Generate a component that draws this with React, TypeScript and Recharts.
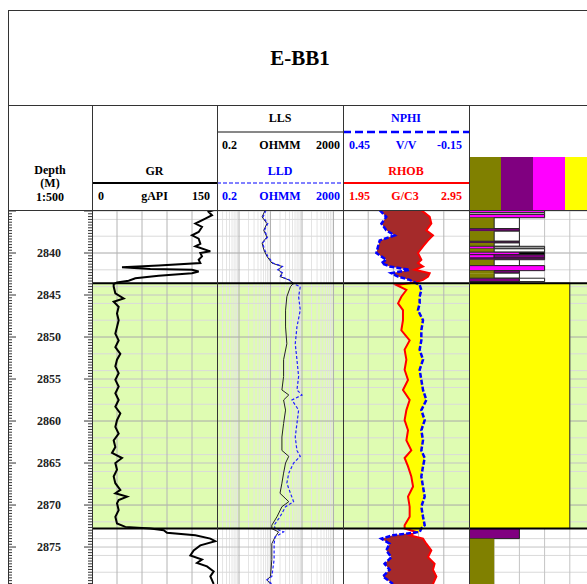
import React from "react";
import {
  Area,
  ComposedChart,
  Line,
  ReferenceArea,
  ReferenceLine,
  XAxis,
  YAxis,
} from "recharts";

// plotted depth window (m) and the pay interval
const TOP_DEPTH = 2834.88;
const BASE_DEPTH = 2879.4;
const PAY_TOP = 2843.6;
const PAY_BASE = 2872.8;

// gamma ray
const grDepth = [
  2834.9, 2835.1, 2835.5, 2835.9, 2836.5, 2836.9, 2837.5, 2837.9, 2838.3, 2838.9,
  2839.2, 2839.8, 2840.0, 2840.4, 2840.8, 2841.2, 2841.5, 2841.7, 2841.9, 2842.0,
  2842.2, 2842.4, 2842.7, 2843.0, 2843.3, 2843.5, 2843.7, 2844.0, 2844.8, 2845.4,
  2845.8, 2846.4, 2847.2, 2848.0, 2848.8, 2849.6, 2850.4, 2851.2, 2852.0, 2852.7,
  2853.5, 2854.3, 2855.1, 2855.9, 2856.7, 2857.5, 2858.3, 2859.1, 2859.9, 2860.7,
  2861.5, 2862.3, 2863.1, 2863.8, 2864.4, 2865.0, 2865.8, 2866.6, 2867.4, 2868.2,
  2868.6, 2869.0, 2869.4, 2869.8, 2870.6, 2871.4, 2872.2, 2872.6, 2872.8, 2873.0,
  2873.3, 2873.6, 2874.0, 2874.3, 2874.8, 2875.4, 2876.0, 2876.5, 2876.9, 2877.3,
  2877.9, 2878.5, 2879.4,
];
const grApi = [
  146, 140, 144, 136, 124, 132, 128, 120, 128, 130,
  124, 142, 130, 132, 128, 130, 80, 36, 70, 120,
  128, 120, 80, 52, 44, 30, 26, 26, 28, 38,
  26, 32, 30, 32, 30, 28, 32, 28, 34, 30,
  28, 32, 28, 32, 28, 32, 28, 34, 30, 28,
  32, 26, 28, 24, 36, 28, 30, 26, 28, 34,
  28, 42, 32, 30, 32, 28, 30, 40, 70, 86,
  90, 124, 142, 148, 130, 122, 118, 132, 126, 138,
  146, 142, 146,
];

// laterologs
const resDepth = [
  2834.9, 2835.7, 2836.5, 2837.3, 2838.1, 2838.8, 2839.6, 2840.4, 2841.2, 2841.6,
  2842.0, 2842.4, 2842.8, 2843.2, 2843.6, 2844.0, 2845.2, 2846.8, 2848.8, 2850.8,
  2852.7, 2854.7, 2856.3, 2856.9, 2857.5, 2858.7, 2860.3, 2861.9, 2863.5, 2864.2,
  2865.0, 2866.2, 2867.4, 2868.6, 2869.6, 2870.2, 2871.4, 2872.4, 2872.8, 2873.2,
  2873.8, 2874.6, 2876.5, 2878.5, 2878.9, 2879.4,
];
const llsOhmm = [
  6.8, 5.4, 7.7, 6.1, 7.7, 5.4, 6.1, 7.7, 11.1, 23,
  18, 23, 20, 38, 54, 43, 33, 30, 30, 33,
  26, 26, 23, 38, 26, 30, 26, 23, 23, 38,
  30, 26, 23, 20, 38, 23, 16, 11, 11, 18,
  14, 11, 11, 10, 7.7, 10,
];
const lldOhmm = [
  7.2, 5.8, 8.2, 6.4, 8.0, 5.6, 6.5, 8.2, 12, 24,
  17, 25, 21, 40, 48, 88, 78, 88, 69, 61,
  69, 78, 69, 100, 48, 78, 69, 61, 69, 88,
  54, 38, 33, 43, 54, 30, 20, 13, 14, 26,
  14, 13, 13, 11, 7.7, 11,
];

// neutron / density
const denDepth = [
  2834.9, 2835.7, 2836.5, 2837.3, 2837.9, 2838.5, 2839.2, 2840.0, 2840.8, 2841.2,
  2841.6, 2842.0, 2842.4, 2842.8, 2843.2, 2843.5, 2843.8, 2844.4, 2845.2, 2846.0,
  2846.8, 2848.0, 2849.2, 2850.4, 2851.5, 2852.7, 2853.9, 2855.1, 2856.3, 2857.5,
  2858.7, 2859.9, 2861.1, 2862.3, 2863.5, 2864.4, 2865.4, 2866.6, 2867.8, 2869.0,
  2870.2, 2871.4, 2872.4, 2872.8, 2873.2, 2873.6, 2874.0, 2874.6, 2875.4, 2876.2,
  2877.0, 2877.7, 2878.5, 2879.4,
];
const nphiVv = [
  0.275, 0.244, 0.267, 0.244, 0.204, 0.275, 0.283, 0.291, 0.244, 0.267,
  0.228, 0.133, 0.22, 0.188, 0.133, 0.109, 0.085, 0.077, 0.085, 0.085,
  0.093, 0.069, 0.077, 0.077, 0.085, 0.069, 0.085, 0.077, 0.069, 0.053,
  0.077, 0.061, 0.077, 0.069, 0.077, 0.061, 0.069, 0.077, 0.069, 0.061,
  0.077, 0.069, 0.061, 0.077, 0.085, 0.212, 0.267, 0.228, 0.244, 0.22,
  0.252, 0.228, 0.26, 0.212,
];
const rhobGcc = [
  2.572, 2.638, 2.651, 2.611, 2.664, 2.625, 2.585, 2.545, 2.572, 2.545,
  2.585, 2.519, 2.638, 2.625, 2.585, 2.519, 2.373, 2.453, 2.413, 2.387,
  2.426, 2.426, 2.413, 2.479, 2.439, 2.453, 2.439, 2.466, 2.426, 2.479,
  2.453, 2.439, 2.466, 2.453, 2.492, 2.439, 2.466, 2.492, 2.506, 2.466,
  2.479, 2.479, 2.439, 2.439, 2.532, 2.479, 2.585, 2.611, 2.651, 2.625,
  2.677, 2.664, 2.691, 2.664,
];

// lithology column: interval tops/bases and "code width" parts (% of track)
const litTop = [
  2834.88, 2835.2, 2835.4, 2835.8, 2837.1, 2837.4, 2838.6, 2838.8, 2839.2, 2839.5,
  2839.9, 2840.2, 2840.6, 2840.8, 2841.5, 2842.1, 2842.4, 2843.0, 2843.4, 2843.6,
  2872.8, 2874.0,
];
const litBase = [
  2835.2, 2835.4, 2835.8, 2837.1, 2837.4, 2838.6, 2838.8, 2839.2, 2839.5, 2839.9,
  2840.2, 2840.6, 2840.8, 2841.5, 2842.1, 2842.4, 2843.0, 2843.4, 2843.6, 2872.8,
  2874.0, 2879.4,
];
const litParts = [
  "M60", "W60", "M60", "O20 W20", "P40", "O20 W20", "P40", "O20 W20", "M20 G40", "O20 W40",
  "M40 K20", "M20 P40", "P60", "O20 W20", "M60", "O20 P20", "O20 W20", "P40 W20", "P40", "Y80",
  "P40", "O20",
];
const litColors: Record<string, string> = {
  O: "#808000",
  P: "#800080",
  M: "#ff00ff",
  W: "#ffffff",
  G: "#9a9a9a",
  K: "#000000",
  Y: "#ffff00",
};

const SERIF = '"Liberation Serif", "Times New Roman", serif';
const PLOT_H = 374;
const PAY_FILL = "#dffcb2";

const grRows = grDepth.map((d, i) => ({ depth: d, gr: grApi[i] }));
const resRows = resDepth.map((d, i) => ({ depth: d, lls: llsOhmm[i], lld: lldOhmm[i] }));
const denRows = denDepth.map((d, i) => {
  // neutron expressed on the density scale for the crossover shading
  const nEq = 1.95 + (0.45 - nphiVv[i]) / 0.6;
  const r = rhobGcc[i];
  return {
    depth: d,
    nphi: nphiVv[i],
    rhob: r,
    shale: [nEq, Math.max(nEq, r)],
    sand: [r, Math.max(r, nEq)],
  };
});

// horizontal grid depths
const rows2: number[] = [];
for (let d = 2836; d <= 2878; d += 2) if (d % 10 !== 0) rows2.push(d);
const rows5 = [2835, 2845, 2855, 2865, 2875];
const rows10 = [2840, 2850, 2860, 2870];
const depthTicks: number[] = [];
for (let i = 0; 2835 + i / 3 <= BASE_DEPTH; i++) depthTicks.push(2835 + i / 3);

const depthGrid = (k: string) => [
  ...rows2.map((d) => (
    <ReferenceLine key={`${k}a${d}`} y={d} stroke="#dadada" zIndex={-150} />
  )),
  ...rows5.map((d) => (
    <ReferenceLine key={`${k}b${d}`} y={d} stroke="#c4c4c4" zIndex={-150} />
  )),
  ...rows10.map((d) => (
    <ReferenceLine key={`${k}c${d}`} y={d} stroke="#a8a8a8" zIndex={-150} />
  )),
];

const payZone = (k: string) => (
  <ReferenceArea
    key={`${k}pay`}
    y1={PAY_TOP}
    y2={PAY_BASE}
    fill={PAY_FILL}
    fillOpacity={1}
    stroke="none"
    ifOverflow="hidden"
    zIndex={-200}
  />
);

const payEdges = (k: string) => [
  <ReferenceLine key={`${k}t`} y={PAY_TOP} stroke="#000" strokeWidth={2} zIndex={900} />,
  <ReferenceLine key={`${k}b`} y={PAY_BASE} stroke="#000" strokeWidth={2} zIndex={900} />,
];

// depth increases downward in the vertical layout without reversing
const depthAxis = (
  <YAxis type="number" dataKey="depth" domain={[TOP_DEPTH, BASE_DEPTH]} hide allowDataOverflow />
);

const margin = { top: 0, right: 0, bottom: 0, left: 0 };

function DepthTick(props: any) {
  const { y, payload } = props;
  const v: number = payload.value;
  const major = Math.abs(v - Math.round(v / 5) * 5) < 0.01;
  const len = major ? 8 : 4;
  // the 2835 label would sit under the header line
  const labelled = major && v > 2836;
  return (
    <g>
      <line x1={0} x2={len} y1={y} y2={y} stroke="#333" />
      <line x1={84 - len} x2={84} y1={y} y2={y} stroke="#333" />
      {labelled && (
        <text x={41} y={y + 4} textAnchor="middle" fontSize={12} fontWeight="bold" fontFamily={SERIF} fill="#222">
          {Math.round(v)}
        </text>
      )}
    </g>
  );
}

function DepthTrack() {
  return (
    <ComposedChart layout="vertical" width={84} height={PLOT_H} margin={margin} data={[{ depth: TOP_DEPTH }, { depth: BASE_DEPTH }]}>
      <XAxis type="number" domain={[0, 1]} hide />
      <YAxis
        type="number"
        dataKey="depth"
        domain={[TOP_DEPTH, BASE_DEPTH]}
        allowDataOverflow
        mirror
        ticks={depthTicks}
        interval={0}
        tickLine={false}
        axisLine={false}
        tick={(p: any) => <DepthTick {...p} />}
      />
    </ComposedChart>
  );
}

function GrTrack() {
  return (
    <ComposedChart layout="vertical" width={125} height={PLOT_H} margin={margin} data={grRows}>
      <XAxis type="number" domain={[0, 150]} hide allowDataOverflow />
      {depthAxis}
      {payZone("gr")}
      {depthGrid("gr")}
      {[30, 60, 90, 120].map((v) => (
        <ReferenceLine key={`grx${v}`} x={v} stroke="#b4b4b4" zIndex={-150} />
      ))}
      <Line dataKey="gr" type="linear" stroke="#000" strokeWidth={2} dot={false} isAnimationActive={false} />
      {payEdges("gr")}
    </ComposedChart>
  );
}

const logMinor = [0.3, 0.4, 0.5, 0.6, 0.7, 0.8, 0.9, 2, 3, 4, 5, 6, 7, 8, 9, 20, 30, 40, 50, 60, 70, 80, 90, 200, 300, 400, 500, 600, 700, 800, 900];
const logMajor = [1, 10, 100, 1000];

function ResTrack() {
  return (
    <ComposedChart layout="vertical" width={126} height={PLOT_H} margin={margin} data={resRows}>
      <XAxis type="number" scale="log" domain={[0.2, 2000]} hide allowDataOverflow />
      {depthAxis}
      {payZone("res")}
      {logMinor.map((v) => (
        <ReferenceLine key={`rm${v}`} x={v} stroke="#e4e4e4" zIndex={-150} />
      ))}
      {depthGrid("res")}
      {logMajor.map((v) => (
        <ReferenceLine key={`rM${v}`} x={v} stroke="#b0b0b0" zIndex={-150} />
      ))}
      <Line dataKey="lls" type="linear" stroke="#222" strokeWidth={1} dot={false} isAnimationActive={false} />
      <Line dataKey="lld" type="linear" stroke="#1f1fff" strokeWidth={1.2} strokeDasharray="3 2" dot={false} isAnimationActive={false} />
      {payEdges("res")}
    </ComposedChart>
  );
}

function DenTrack() {
  return (
    <ComposedChart layout="vertical" width={126} height={PLOT_H} margin={margin} data={denRows}>
      <XAxis type="number" domain={[1.95, 2.95]} hide allowDataOverflow />
      <XAxis xAxisId="nphi" type="number" domain={[-0.15, 0.45]} reversed hide allowDataOverflow />
      {depthAxis}
      {payZone("den")}
      {depthGrid("den")}
      {[2.15, 2.35, 2.55, 2.75].map((v) => (
        <ReferenceLine key={`dx${v}`} x={v} stroke="#b4b4b4" zIndex={-150} />
      ))}
      <Area dataKey="shale" type="linear" fill="#a52a2a" fillOpacity={1} stroke="none" isAnimationActive={false} />
      <Area dataKey="sand" type="linear" fill="#ffff00" fillOpacity={1} stroke="none" isAnimationActive={false} />
      <Line dataKey="rhob" type="linear" stroke="#ff0000" strokeWidth={2} dot={false} isAnimationActive={false} />
      <Line
        xAxisId="nphi"
        dataKey="nphi"
        type="linear"
        stroke="#0000ff"
        strokeWidth={2.5}
        strokeDasharray="5 2"
        dot={false}
        isAnimationActive={false}
      />
      {payEdges("den")}
    </ComposedChart>
  );
}

function LithTrack() {
  const boxes: React.ReactNode[] = [];
  litParts.forEach((parts, i) => {
    let x = 0;
    parts.split(" ").forEach((p, j) => {
      const code = p[0];
      const w = Number(p.slice(1));
      boxes.push(
        <ReferenceArea
          key={`lit${i}_${j}`}
          x1={x}
          x2={x + w}
          y1={litTop[i]}
          y2={litBase[i]}
          fill={litColors[code]}
          fillOpacity={1}
          stroke={code === "O" ? "none" : "#222"}
          strokeWidth={1}
          ifOverflow="hidden"
          zIndex={100}
        />
      );
      x += w;
    });
  });
  return (
    <ComposedChart layout="vertical" width={126} height={PLOT_H} margin={margin} data={[{ depth: TOP_DEPTH }, { depth: BASE_DEPTH }]}>
      <XAxis type="number" domain={[0, 100]} hide allowDataOverflow />
      {depthAxis}
      {payZone("lit")}
      {depthGrid("lit")}
      {[20, 40, 60, 80].map((v) => (
        <ReferenceLine key={`lx${v}`} x={v} stroke="#c4c4c4" zIndex={-150} />
      ))}
      {boxes}
      {payEdges("lit")}
    </ComposedChart>
  );
}

function Label(props: {
  x: number;
  y: number;
  w: number;
  align?: "left" | "center" | "right";
  color?: string;
  size?: number;
  children: React.ReactNode;
}) {
  const { x, y, w, align = "center", color = "#000", size = 12, children } = props;
  return (
    <div
      style={{
        position: "absolute",
        left: x,
        top: y - 7,
        width: w,
        textAlign: align,
        color,
        fontSize: size,
        fontWeight: "bold",
        lineHeight: "14px",
        whiteSpace: "nowrap",
      }}
    >
      {children}
    </div>
  );
}

function HLine(props: { x: number; y: number; w: number; color: string; width?: number; dash?: string }) {
  const { x, y, w, color, width = 1, dash } = props;
  return (
    <svg style={{ position: "absolute", left: x, top: y - 2 }} width={w} height={4}>
      <line x1={0} x2={w} y1={2} y2={2} stroke={color} strokeWidth={width} strokeDasharray={dash} />
    </svg>
  );
}

const rule = (left: number, top: number, width: number, height: number, key: string) => (
  <div key={key} style={{ position: "absolute", left, top, width, height, background: "#333" }} />
);

export default function App() {
  return (
    <div
      style={{
        position: "absolute",
        left: 0,
        top: 0,
        width: 587,
        height: 584,
        overflow: "hidden",
        background: "#fff",
        fontFamily: SERIF,
      }}
    >
      {/* title */}
      <div
        style={{
          position: "absolute",
          left: 8,
          top: 46,
          width: 584,
          textAlign: "center",
          fontSize: 21,
          fontWeight: "bold",
          lineHeight: "24px",
        }}
      >
        E-BB1
      </div>

      {/* depth header */}
      <Label x={8} y={170} w={84}>Depth</Label>
      <Label x={8} y={183} w={84}>(M)</Label>
      <Label x={8} y={197} w={84}>1:500</Label>

      {/* GR header */}
      <Label x={92} y={171} w={125}>GR</Label>
      <HLine x={92} y={183} w={125} color="#000" width={2} />
      <Label x={98} y={196} w={40} align="left">0</Label>
      <Label x={92} y={196} w={125}>gAPI</Label>
      <Label x={92} y={196} w={118} align="right">150</Label>

      {/* resistivity header */}
      <Label x={217} y={118} w={126}>LLS</Label>
      <HLine x={217} y={132} w={126} color="#111" width={1} />
      <Label x={222} y={145} w={40} align="left">0.2</Label>
      <Label x={217} y={145} w={126}>OHMM</Label>
      <Label x={217} y={145} w={123} align="right">2000</Label>
      <Label x={217} y={171} w={126} color="#0000ff">LLD</Label>
      <HLine x={217} y={183} w={126} color="#0000ff" width={1} dash="4 2" />
      <Label x={222} y={196} w={40} align="left" color="#0000ff">0.2</Label>
      <Label x={217} y={196} w={126} color="#0000ff">OHMM</Label>
      <Label x={217} y={196} w={123} align="right" color="#0000ff">2000</Label>

      {/* neutron-density header */}
      <Label x={343} y={118} w={126} color="#0000ff">NPHI</Label>
      <HLine x={343} y={132} w={126} color="#0000ff" width={2.5} dash="8 4" />
      <Label x={349} y={145} w={40} align="left" color="#0000ff">0.45</Label>
      <Label x={343} y={145} w={126} color="#0000ff">V/V</Label>
      <Label x={343} y={145} w={119} align="right" color="#0000ff">-0.15</Label>
      <Label x={343} y={171} w={126} color="#ff0000">RHOB</Label>
      <HLine x={343} y={183} w={126} color="#ff0000" width={2} />
      <Label x={349} y={196} w={40} align="left" color="#ff0000">1.95</Label>
      <Label x={343} y={196} w={124} color="#ff0000">G/C3</Label>
      <Label x={343} y={196} w={119} align="right" color="#ff0000">2.95</Label>

      {/* lithology legend swatches */}
      {["O", "P", "M", "Y"].map((c, i) => (
        <div
          key={c}
          style={{
            position: "absolute",
            left: 469 + i * 32,
            top: 157,
            width: 32,
            height: 53,
            background: litColors[c],
          }}
        />
      ))}

      {/* tracks */}
      <div style={{ position: "absolute", left: 8, top: 210 }}>
        <DepthTrack />
      </div>
      <div style={{ position: "absolute", left: 92, top: 210 }}>
        <GrTrack />
      </div>
      <div style={{ position: "absolute", left: 217, top: 210 }}>
        <ResTrack />
      </div>
      <div style={{ position: "absolute", left: 343, top: 210 }}>
        <DenTrack />
      </div>
      <div style={{ position: "absolute", left: 469, top: 210 }}>
        <LithTrack />
      </div>

      {/* frame */}
      {rule(8, 10, 600, 1, "top")}
      {rule(8, 10, 1, 600, "left")}
      {rule(8, 105, 600, 1, "title")}
      {rule(8, 210, 600, 1, "head")}
      {[92, 217, 343, 469].map((x) => rule(x, 105, 1, 500, `v${x}`))}
    </div>
  );
}
